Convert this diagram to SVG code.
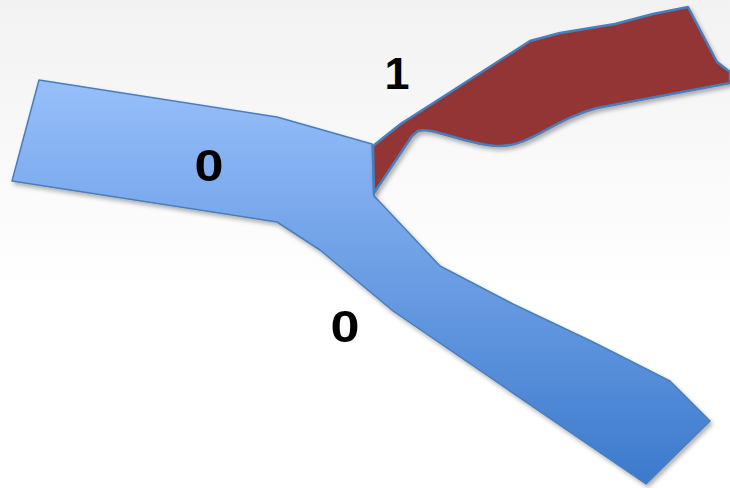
<svg xmlns="http://www.w3.org/2000/svg" width="730" height="488" viewBox="0 0 730 488">
<defs>
<linearGradient id="bg" x1="0" y1="0" x2="0" y2="1">
<stop offset="0" stop-color="#f2f2f2"/>
<stop offset="0.6" stop-color="#ffffff"/>
<stop offset="1" stop-color="#ffffff"/>
</linearGradient>
<linearGradient id="blueGrad" x1="0" y1="0" x2="0" y2="1">
<stop offset="0" stop-color="#97bffb"/>
<stop offset="1" stop-color="#3c7acc"/>
</linearGradient>
<filter id="shadow" x="-10%" y="-10%" width="120%" height="130%">
<feDropShadow dx="2" dy="3" stdDeviation="2" flood-color="#000" flood-opacity="0.3"/>
</filter>
<style>
.lbl{font-family:"Liberation Sans",Arial,sans-serif;font-weight:bold;font-size:45px;fill:#000;text-anchor:middle}
.edge{stroke:#4a7ebb;stroke-linejoin:round}
</style>
</defs>
<rect width="730" height="488" fill="url(#bg)"/>
<g id="blue-channel" filter="url(#shadow)">
<path class="edge" fill="url(#blueGrad)" stroke-width="1.5" d="M39,80 L277,117 L372,144 L374,196 L377,199 L440,266 L513,304 L593,342 L670,381 L710,421 L646,484 L393,311 L320,250 L277,222 L12,181 Z"/>
</g>
<g id="red-channel" filter="url(#shadow)">
<path class="edge" fill="#943634" stroke-width="2.5" d="M373,146 L388,134 L402,123 L410,118 L530,41 L560,33 L615,24 L653,14 L688,7 L717,62 L730,72 L730,83 L597,108 C552,120 530,147 498,146 C466,145 432,126 418,131 L412,136 L374,193 Z"/>
</g>
<g id="labels">
<text class="lbl" x="397" y="89">1</text>
<text class="lbl" x="209" y="181" textLength="29" lengthAdjust="spacingAndGlyphs">0</text>
<text class="lbl" x="345" y="342" textLength="29" lengthAdjust="spacingAndGlyphs">0</text>
</g>
</svg>
